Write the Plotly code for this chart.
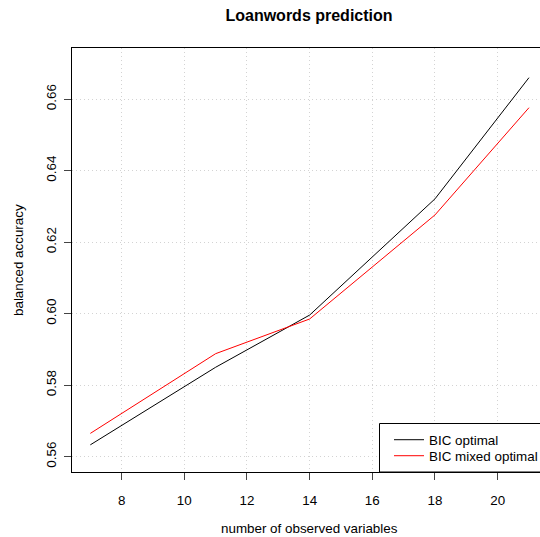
import plotly.graph_objects as go

n_vars = [7, 11, 14, 18, 21]
bic_optimal = [0.5633, 0.5850, 0.5996, 0.6321, 0.6660]
bic_mixed_optimal = [0.5665, 0.5888, 0.5985, 0.6276, 0.6576]
x_ticks = [8, 10, 12, 14, 16, 18, 20]
y_ticks = [0.56, 0.58, 0.60, 0.62, 0.64, 0.66]
y_tick_labels = ["0.56", "0.58", "0.60", "0.62", "0.64", "0.66"]

W, H = 540, 537
L, R, T, B = 72, 0, 48, 65
FONT = "Liberation Sans, Arial, Helvetica, sans-serif"
FS = 13.4

fig = go.Figure()
fig.add_trace(go.Scatter(x=n_vars, y=bic_optimal, mode="lines", name="BIC optimal",
                         line=dict(color="black", width=1), legend="legend"))
fig.add_trace(go.Scatter(x=n_vars, y=bic_mixed_optimal, mode="lines", name="BIC mixed optimal",
                         line=dict(color="#FF0000", width=1), legend="legend2"))

pw = W - L - R
ph = H - T - B

def px_x(p):
    return (p - L) / pw

def px_y(p):
    return (H - B - p) / ph

# legend box
fig.add_shape(type="rect", xref="paper", yref="paper",
              x0=px_x(379.5), x1=px_x(560), y0=px_y(472), y1=px_y(423.5),
              line=dict(color="black", width=1), fillcolor="white", layer="above")

# axis titles
fig.add_annotation(text="number of observed variables", xref="paper", yref="paper",
                   x=px_x(309), y=px_y(536.5), xanchor="center", yanchor="bottom",
                   borderpad=0, showarrow=False,
                   font=dict(family=FONT, size=FS, color="black"))
fig.add_annotation(text="balanced accuracy", xref="paper", yref="paper",
                   x=px_x(18), y=px_y(260), xanchor="center", yanchor="middle",
                   textangle=-90, showarrow=False,
                   font=dict(family=FONT, size=FS, color="black"))

grid = dict(showgrid=True, gridcolor="#d3d3d3", griddash="1px,3px", gridwidth=1)
leg = dict(xanchor="left", yanchor="middle", bgcolor="rgba(0,0,0,0)", borderwidth=0,
           font=dict(family=FONT, size=FS, color="black"), itemwidth=30)

fig.update_layout(
    width=W, height=H,
    margin=dict(l=L, r=R, t=T, b=B, pad=0, autoexpand=False),
    plot_bgcolor="white", paper_bgcolor="white",
    font=dict(family=FONT, size=FS, color="black"),
    title=dict(text="<b>Loanwords prediction</b>", x=309 / W, xanchor="center", xref="container",
               y=1 - 15 / H, yanchor="middle", yref="container",
               font=dict(family=FONT, size=16, color="black")),
    showlegend=True,
    legend=dict(x=px_x(389), y=px_y(440), **leg),
    legend2=dict(x=px_x(389), y=px_y(456), **leg),
    xaxis=dict(range=[6.415, 21.352], tickmode="array", tickvals=x_ticks,
               ticks="outside", ticklen=7, tickcolor="#444", tickwidth=1,
               showline=True, linecolor="black", linewidth=1, mirror=True,
               zeroline=False, ticklabelstandoff=9, automargin=False, **grid),
    yaxis=dict(range=[0.5557, 0.6743], tickmode="array", tickvals=y_ticks,
               ticktext=y_tick_labels, tickangle=-90,
               ticks="outside", ticklen=7, tickcolor="#444", tickwidth=1,
               showline=True, linecolor="black", linewidth=1, mirror=False,
               zeroline=False, ticklabelstandoff=3, automargin=False, **grid),
)

fig.write_html("out.html", config={"displayModeBar": False},
               post_script="document.body.style.margin='0';document.body.style.overflow='hidden';")
